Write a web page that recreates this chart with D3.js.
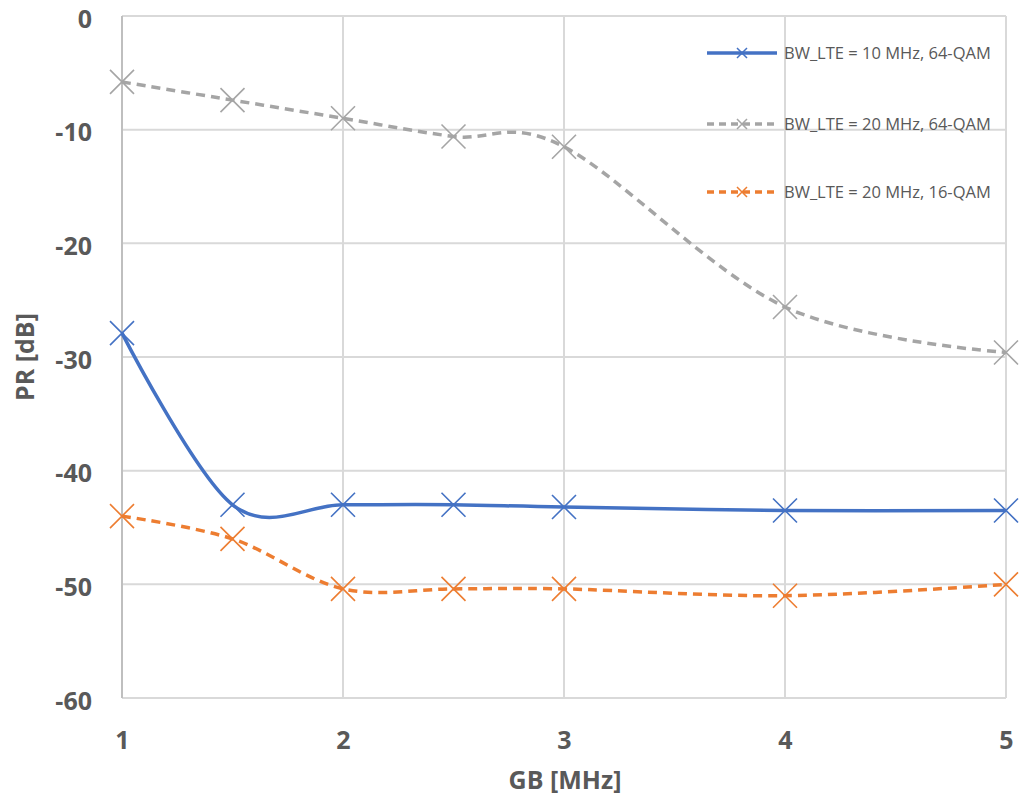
<!DOCTYPE html>
<html><head><meta charset="utf-8">
<script src="https://cdn.jsdelivr.net/npm/d3@7"></script>
<style>body{margin:0;background:#fff}svg{display:block}</style>
</head><body>
<svg id="c" width="1022" height="798"></svg>
<script>
const xValues = [1, 1.5, 2, 2.5, 3, 4, 5];
const seriesNames = ["BW_LTE = 10 MHz, 64-QAM", "BW_LTE = 20 MHz, 64-QAM", "BW_LTE = 20 MHz, 16-QAM"];
const blueValues = [-27.9, -43.0, -43.0, -43.0, -43.2, -43.5, -43.5];
const grayValues = [-5.8, -7.4, -9.0, -10.6, -11.5, -25.6, -29.6];
const orangeValues = [-44.0, -46.0, -50.4, -50.4, -50.4, -51.0, -50.0];
const xTicks = [1, 2, 3, 4, 5];
const yTicks = [0, -10, -20, -30, -40, -50, -60];
const colors = ["#4472c4", "#a5a5a5", "#ed7d31"];
const dashes = [null, "9,6", "9,6"];

const svg = d3.select("#c");
const x = d3.scaleLinear().domain([1, 5]).range([122, 1006]);
const y = d3.scaleLinear().domain([-60, 0]).range([698, 16]);
const font = "'Open Sans', sans-serif";
const fs = 25;

// grid
svg.append("g").selectAll("line").data(yTicks).join("line")
  .attr("x1", x(1)).attr("x2", x(5)).attr("y1", d => y(d)).attr("y2", d => y(d))
  .attr("stroke", "#d9d9d9").attr("stroke-width", 2);
svg.append("g").selectAll("line").data(xTicks).join("line")
  .attr("x1", d => x(d)).attr("x2", d => x(d)).attr("y1", y(0)).attr("y2", y(-60))
  .attr("stroke", d => d === 1 ? "#bfbfbf" : "#d9d9d9").attr("stroke-width", 2);

// axes labels
const yAxis = d3.axisLeft(y).tickValues(yTicks).tickSize(0).tickPadding(0).tickFormat(d => String(d));
const gy = svg.append("g").attr("transform", `translate(${x(1) - 30},0)`).call(yAxis);
gy.select(".domain").remove();
gy.selectAll("text").attr("font-family", font).attr("font-weight", "bold").attr("font-size", fs)
  .attr("fill", "#595959").attr("dy", "0.44em");

const xAxis = d3.axisBottom(x).tickValues(xTicks).tickSize(0).tickPadding(0).tickFormat(d => String(d));
const gx = svg.append("g").attr("transform", `translate(0,${y(-60) + 51})`).call(xAxis);
gx.select(".domain").remove();
gx.selectAll("text").attr("font-family", font).attr("font-weight", "bold").attr("font-size", fs)
  .attr("fill", "#595959").attr("dy", "0");

svg.append("text").attr("x", (x(1) + x(5)) / 2 + 1).attr("y", 789).attr("text-anchor", "middle")
  .attr("font-family", font).attr("font-weight", "bold").attr("font-size", fs).attr("fill", "#595959")
  .text("GB [MHz]");
svg.append("text").attr("transform", `translate(34,${(y(0) + y(-60)) / 2}) rotate(-90)`)
  .attr("text-anchor", "middle")
  .attr("font-family", font).attr("font-weight", "bold").attr("font-size", fs).attr("fill", "#595959")
  .text("PR [dB]");

const series = [blueValues, grayValues, orangeValues];
const line = d3.line().x((d, i) => x(xValues[i])).y(d => y(d)).curve(d3.curveCatmullRom.alpha(0));
const crossPath = s => `M${-s},${-s}L${s},${s}M${-s},${s}L${s},${-s}`;

series.forEach((vals, k) => {
  svg.append("path").datum(vals).attr("d", line).attr("fill", "none")
    .attr("stroke", colors[k]).attr("stroke-width", 3.5).attr("stroke-dasharray", dashes[k]);
  svg.append("g").selectAll("path").data(vals).join("path")
    .attr("transform", (d, i) => `translate(${x(xValues[i])},${y(d)})`)
    .attr("d", crossPath(12)).attr("stroke", colors[k]).attr("stroke-width", 1.6).attr("fill", "none");
});

// legend
const legY = [53, 124, 192];
seriesNames.forEach((name, k) => {
  const g = svg.append("g").attr("transform", `translate(707,${legY[k]})`);
  g.append("line").attr("x1", 0).attr("x2", 70).attr("y1", 0).attr("y2", 0)
    .attr("stroke", colors[k]).attr("stroke-width", 3.5).attr("stroke-dasharray", dashes[k] ? "7,5" : null);
  g.append("path").attr("transform", "translate(35,0)").attr("d", crossPath(5))
    .attr("stroke", colors[k]).attr("stroke-width", 1.5);
  g.append("text").attr("x", 77).attr("dy", "0.35em").attr("font-family", font).attr("font-size", 16.5)
    .attr("fill", "#595959").text(name);
});
</script>
</body></html>
